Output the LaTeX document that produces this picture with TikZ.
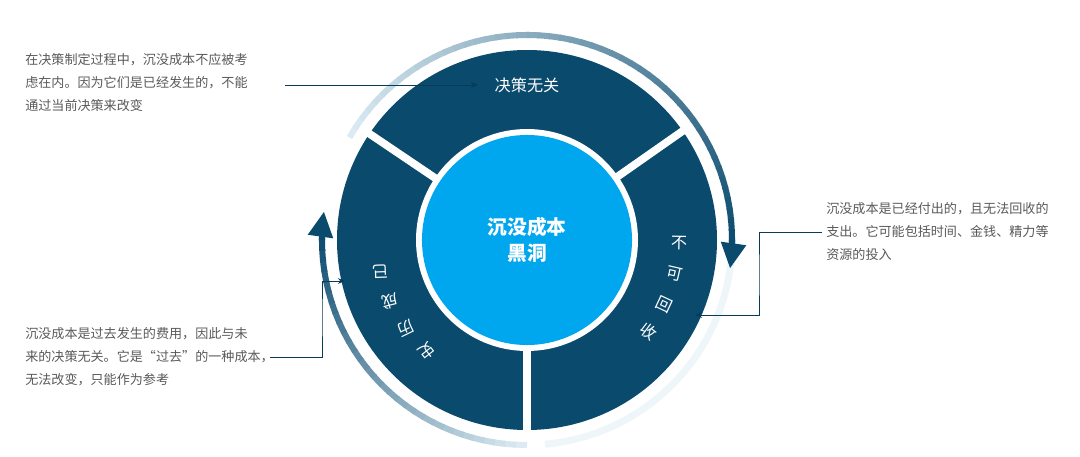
\documentclass[tikz,border=0pt]{standalone}
\usepackage{fontspec}
\setmainfont{Noto Sans CJK SC}
\usetikzlibrary{arrows.meta,calc}
\definecolor{ringblue}{HTML}{0A4A6D}
\definecolor{coreblue}{HTML}{00A6EE}
\definecolor{paleblue}{HTML}{DCEBF3}
\definecolor{notegray}{HTML}{595959}

\begin{document}
\begin{tikzpicture}[x=0.025cm,y=0.025cm,
	note/.style={anchor=north west,align=left,text=notegray,font=\fontsize{9.3}{16.3}\selectfont,inner sep=0pt},
	seg/.style={text=white,font=\fontsize{11.5}{12}\selectfont,inner sep=0pt},
	pointer/.style={draw=ringblue!80!black,line width=0.6pt,-{Stealth[length=5pt,width=4pt]}}]
	\useasboundingbox (0,0) rectangle (1080,456);
	% faint glow on the right
	\draw[paleblue!45,line width=5pt] (527,216) ++(60:205) arc[start angle=60,end angle=-85,radius=205];
	% turning arcs
	\foreach \a [evaluate=\a as \t using {100*(150-\a)/150}] in {150,147,...,3}
		\draw[ringblue!\t!paleblue,line width=4.3pt] (527,216) ++(\a:205) arc[start angle=\a,end angle=\a-3.5,radius=205];
	\draw[ringblue,line width=4.3pt,-{Triangle[length=18pt,width=17pt]}] (527,216) ++(0:205) arc[start angle=0,end angle=-8,radius=205];
	\foreach \a [evaluate=\a as \t using {100*(270-\a)/90}] in {270,267,...,183}
		\draw[ringblue!\t!paleblue,line width=4.3pt] (527,216) ++(\a:205) arc[start angle=\a,end angle=\a-3.5,radius=205];
	\draw[ringblue,line width=4.3pt,-{Triangle[length=18pt,width=17pt]}] (527,216) ++(180:205) arc[start angle=180,end angle=172,radius=205];
	% ring
	\fill[ringblue] (527,216) circle[radius=190];
	\foreach \g in {146,35,270}
		\draw[white,line width=5.5pt] (527,216) -- ++(\g:195);
	\fill[white] (527,216) circle[radius=111];
	\node[circle,fill=coreblue,minimum size=5.25cm,text=white,align=center,
		font=\fontsize{14}{19}\selectfont\bfseries] (core) at (527,216) {沉没成本\\黑洞};
	% segment labels
	\node[seg] (top) at (527,371) {决策无关};
	\foreach \c [count=\i] in {已,成,历,史}
		\node[seg,rotate=170+12*\i] (left\i) at ($(527,216)+({180+12*\i}:150)$) {\c};
	\foreach \c [count=\i] in {不,可,回,收}
		\node[seg,rotate=11-12*\i] (right\i) at ($(527,216)+({11-12*\i}:152)$) {\c};
	% notes
	\node[note] (n1) at (25,403) {在决策制定过程中，沉没成本不应被考\\虑在内。因为它们是已经发生的，不能\\通过当前决策来改变};
	\node[note] (n2) at (826,254) {沉没成本是已经付出的，且无法回收的\\支出。它可能包括时间、金钱、精力等\\资源的投入};
	\node[note] (n3) at (25,129) {沉没成本是过去发生的费用，因此与未\\来的决策无关。它是“过去”的一种成本，\\无法改变，只能作为参考};
	\coordinate (t1) at (478,371);
	\coordinate (t2) at (695,141);
	\coordinate (t3) at (345,175);
	\draw[pointer] (285,371) -- (t1);
	\draw[pointer] (822,224) -| (759,180) |- (t2);
	\draw[pointer] (270,99) -| (322,140) |- (t3);
\end{tikzpicture}
\end{document}
